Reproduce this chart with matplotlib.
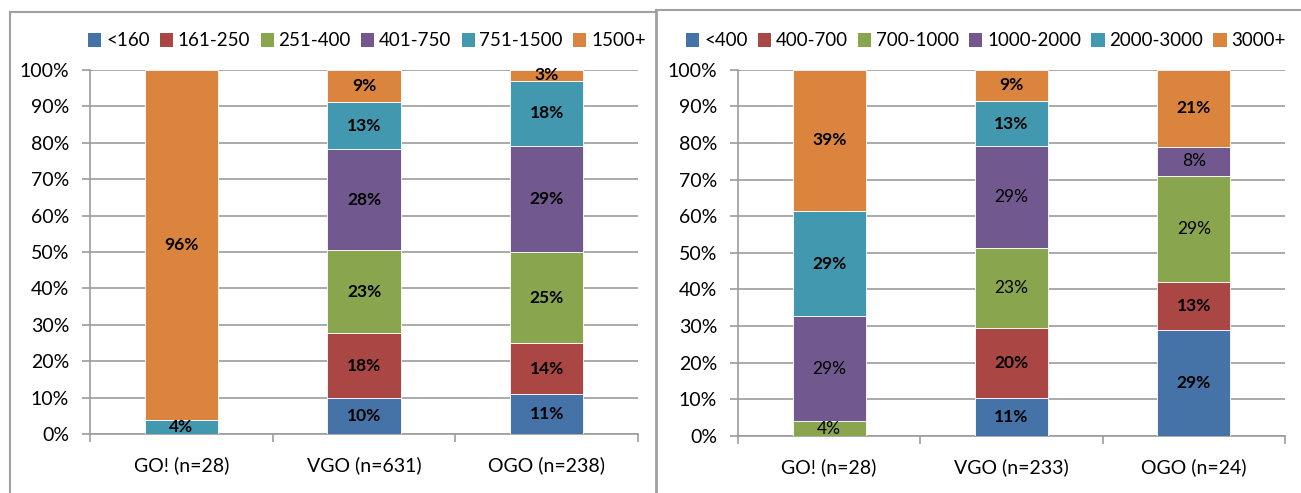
import matplotlib
matplotlib.use("Agg")
import matplotlib.pyplot as plt
import numpy as np
from matplotlib.lines import Line2D
from matplotlib.patches import Patch

plt.rcParams['font.family'] = ['Lato', 'DejaVu Sans']

# Left panel: distribution by first size class
left_groups = ["GO! (n=28)", "VGO (n=631)", "OGO (n=238)"]
left_series = ["<160", "161-250", "251-400", "401-750", "751-1500", "1500+"]
left_lt160 = [0, 10, 11]
left_161_250 = [0, 18, 14]
left_251_400 = [0, 23, 25]
left_401_750 = [0, 28, 29]
left_751_1500 = [4, 13, 18]
left_1500p = [96, 9, 3]

# Right panel: distribution by second size class
right_groups = ["GO! (n=28)", "VGO (n=233)", "OGO (n=24)"]
right_series = ["<400", "400-700", "700-1000", "1000-2000", "2000-3000", "3000+"]
right_lt400 = [0, 11, 29]
right_400_700 = [0, 20, 13]
right_700_1000 = [4, 23, 29]
right_1000_2000 = [29, 29, 8]
right_2000_3000 = [29, 13, 0]
right_3000p = [39, 9, 21]

colors = ["#4572A7", "#AA4643", "#89A54E", "#71588F", "#4198AF", "#DB843D"]
grid_c = "#9C9C9C"

W, H = 1301, 493
fig = plt.figure(figsize=(W / 100, H / 100), dpi=100)


def fx(px):
    return px / W


def fy(py):
    return 1 - py / H


def stacked_panel(rect, groups, names, values, bold_flags, legend_center):
    ax = fig.add_axes(rect)
    vals = np.array(values, dtype=float)
    totals = vals.sum(axis=0)
    shares = vals / totals * 100.0
    x = np.arange(len(groups))
    bottom = np.zeros(len(groups))
    for i, name in enumerate(names):
        ax.bar(x, shares[i], 0.4, bottom=bottom, color=colors[i],
               edgecolor="white", linewidth=0.6, label=name, zorder=3)
        for j in range(len(groups)):
            if vals[i, j] > 0:
                ax.text(x[j], bottom[j] + shares[i, j] / 2, f"{int(vals[i, j])}%",
                        ha="center", va="center", fontsize=12.5,
                        fontweight="bold" if bold_flags[i] else "normal",
                        color="black", zorder=4)
        bottom += shares[i]
    ax.set_xlim(-0.5, len(groups) - 0.5)
    ax.set_ylim(0, 100)
    ax.set_yticks(np.arange(0, 101, 10))
    ax.set_yticklabels([f"{v}%" for v in range(0, 101, 10)], fontsize=14)
    ax.set_xticks(x)
    ax.set_xticklabels(groups, fontsize=14)
    ax.set_xticks(np.arange(-0.5, len(groups), 1.0), minor=True)
    ax.tick_params(axis="x", which="major", length=0, pad=16)
    ax.tick_params(axis="x", which="minor", length=6, width=1.2, color=grid_c)
    ax.tick_params(axis="y", length=6, width=1.2, color=grid_c, pad=9)
    ax.yaxis.grid(True, color=grid_c, linewidth=1.2, zorder=0)
    ax.set_axisbelow(True)
    for s in ["top", "right"]:
        ax.spines[s].set_visible(False)
    for s in ["left", "bottom"]:
        ax.spines[s].set_color(grid_c)
        ax.spines[s].set_linewidth(1.2)
    handles = [Patch(facecolor=colors[i], edgecolor="none") for i in range(len(names))]
    fig.legend(handles, names, loc="center", bbox_to_anchor=(fx(legend_center), fy(41)),
               ncol=len(names), frameon=False, fontsize=13.5, handlelength=0.7,
               handleheight=0.7, handletextpad=0.25, columnspacing=0.55,
               borderpad=0, borderaxespad=0)
    return ax


stacked_panel([fx(90), fy(434.3), fx(548), (434.3 - 69.7) / H], left_groups, left_series,
              [left_lt160, left_161_250, left_251_400, left_401_750, left_751_1500, left_1500p],
              [True] * 6, 367)
stacked_panel([fx(738), fy(436), fx(547), (436 - 69.7) / H], right_groups, right_series,
              [right_lt400, right_400_700, right_700_1000, right_1000_2000, right_2000_3000, right_3000p],
              [True, True, False, False, True, True], 986)

# panel frames
frame_c = "#A0A0A0"
fig.add_artist(Line2D([fx(10), fx(10)], [fy(12), 0], color=frame_c, lw=1.5))
fig.add_artist(Line2D([fx(10), fx(656)], [fy(12), fy(12)], color=frame_c, lw=1.5))
fig.add_artist(Line2D([fx(656), fx(656)], [fy(10), 0], color=frame_c, lw=2))
fig.add_artist(Line2D([fx(656), 1], [fy(10), fy(10)], color=frame_c, lw=1.5))

fig.savefig("out.png", dpi=100, facecolor="white")
